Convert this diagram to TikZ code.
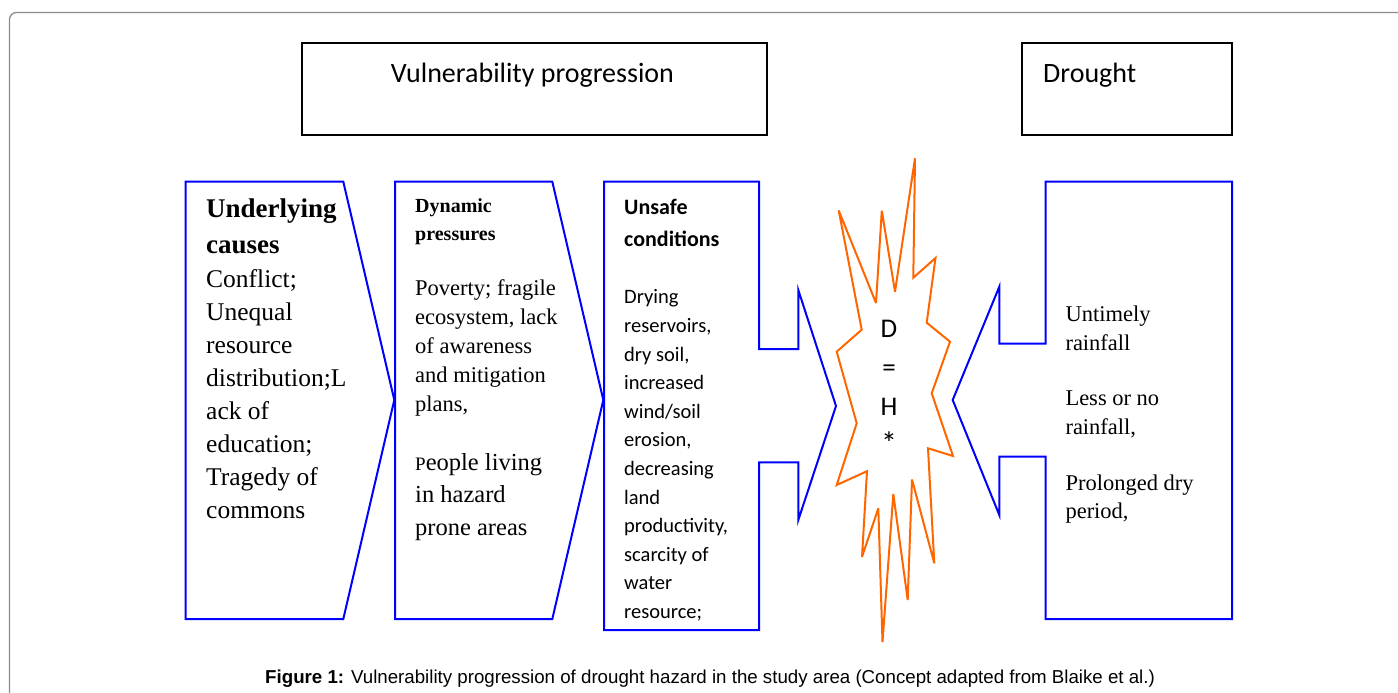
\documentclass[tikz,border=0pt]{standalone}
\usepackage{fontspec}
\setmainfont{Liberation Serif}
\newfontfamily\calibfont{Carlito}
\newfontfamily\arialfont{Liberation Sans}
\definecolor{blue}{RGB}{0,0,255}
\definecolor{orange}{RGB}{255,102,0}
\definecolor{framegray}{RGB}{140,140,140}

\tikzset{
  blueshape/.style={draw=blue, line width=2pt, line join=miter},
  titlebox/.style={draw=black, line width=2pt},
  burstline/.style={draw=orange, line width=2pt, line join=miter, miter limit=4},
  % multi-line texts are placed by the baseline of their last line
  txt/.style={inner sep=0pt, anchor=base west, align=left},
}

\begin{document}
\begin{tikzpicture}[x=1pt,y=-1pt]
\useasboundingbox (0,0) rectangle (1398,693);

%---------------------------------------
% Shared values
%---------------------------------------
\def\Top{181.7}   % top of the blue shapes
\def\Bot{619}     % bottom of the blue shapes
\def\Tip{400}     % height of the arrow tips

% Outer frame
\draw[framegray, line width=1.3pt, rounded corners=7pt] (1402,12.5) -- (9.5,12.5) -- (9.5,697);

%====================================================
% TOP: title boxes
%====================================================
\draw[titlebox] (302,43) rectangle (767,135);
\node[inner sep=0pt, anchor=base] (vulntext) at (532.5,82)
  {\calibfont\fontsize{28}{34}\selectfont Vulnerability progression};

\draw[titlebox] (1022,43) rectangle (1232,135);
\node[txt] (droughttext) at (1043,82)
  {\calibfont\fontsize{28}{34}\selectfont Drought};

%====================================================
% Progression shapes
%====================================================
% Underlying causes
\draw[blueshape] (185.7,\Top) -- (343.3,\Top) -- (394.3,\Tip)
  -- (343.3,\Bot) -- (185.7,\Bot) -- cycle;
\node[txt, font={\fontsize{27}{36}\selectfont\bfseries}] (causeshead) at (206,253)
  {Underlying\\causes};
\node[txt, font={\fontsize{25.5}{33}\selectfont}] (causesbody) at (206,518.3)
  {Conflict;\\Unequal\\resource\\distribution;L\\ack of\\education;\\Tragedy of\\commons};

% Dynamic pressures
\draw[blueshape] (395,\Top) -- (552.3,\Top) -- (603.3,\Tip)
  -- (552.3,\Bot) -- (395,\Bot) -- cycle;
\node[txt, font={\fontsize{20}{28}\selectfont\bfseries}] (presshead) at (415,240)
  {Dynamic\\pressures};
\node[txt, font={\fontsize{22.5}{29}\selectfont}] (pressbody) at (415,411.5)
  {Poverty; fragile\\ecosystem, lack\\of awareness\\and mitigation\\plans,};
\node[txt, font={\fontsize{24.5}{32.8}\selectfont}] (pressbodyb) at (415,535.6)
  {{\fontsize{19}{19}\selectfont P}eople living\\in hazard\\prone areas};

% Unsafe conditions
\draw[blueshape] (604,\Top) -- (759,\Top) -- (759,349) -- (798.3,349) -- (798.3,290)
  -- (836,406) -- (798.3,520) -- (798.3,462.3) -- (759,462.3) -- (759,630)
  -- (604,630) -- cycle;
\node[txt, font={\calibfont\fontsize{22}{32}\selectfont\bfseries}] (unsafehead) at (624,246)
  {Unsafe\\conditions};
\node[txt, font={\calibfont\fontsize{20.5}{28.6}\selectfont}] (unsafebody) at (624,618.5)
  {Drying\\reservoirs,\\dry soil,\\increased\\wind/soil\\erosion,\\decreasing\\land\\productivity,\\scarcity of\\water\\resource;};

%====================================================
% Hazard burst
%====================================================
\draw[burstline] (915,158.3) -- (913.3,277.7) -- (935.5,258) -- (926.7,322.7)
  -- (950,341.7) -- (931.7,393.3) -- (953,456) -- (928,448.3) -- (934.3,563.3)
  -- (912,479.5) -- (907.7,600) -- (893.3,494) -- (882.5,642) -- (878.3,508.3)
  -- (862,557) -- (867,471.2) -- (836.7,485) -- (856.7,423.3) -- (836.7,351.7)
  -- (861.7,329.7) -- (838.7,210.4) -- (876,303) -- (881.8,210.7) -- (895,291.7)
  -- cycle;
\node[inner sep=0pt, anchor=base, align=center, font={\calibfont\fontsize{27}{39}\selectfont}]
  (dhtext) at (889,454.7) {D\\=\\H\\{\fontsize{32}{39}\selectfont *}};

%====================================================
% Drought shape
%====================================================
\draw[blueshape] (1232,\Top) -- (1045.7,\Top) -- (1045.7,343.7) -- (999.3,343.7)
  -- (999.3,286.7) -- (952.7,\Tip) -- (999.3,515) -- (999.3,456.7) -- (1045.7,456.7)
  -- (1045.7,\Bot) -- (1232,\Bot) -- cycle;
\node[txt, font={\fontsize{22.5}{28.3}\selectfont}] (raintext) at (1065.3,518.3)
  {Untimely\\rainfall\\[27.5pt]Less or no\\rainfall,\\[27.5pt]Prolonged dry\\period,};

% Caption
\node[txt, font={\arialfont\fontsize{18.7}{22}\selectfont}] (caption) at (265,683)
  {\textbf{Figure 1:} Vulnerability progression of drought hazard in the study area (Concept adapted from Blaike et al.)};

\end{tikzpicture}
\end{document}
